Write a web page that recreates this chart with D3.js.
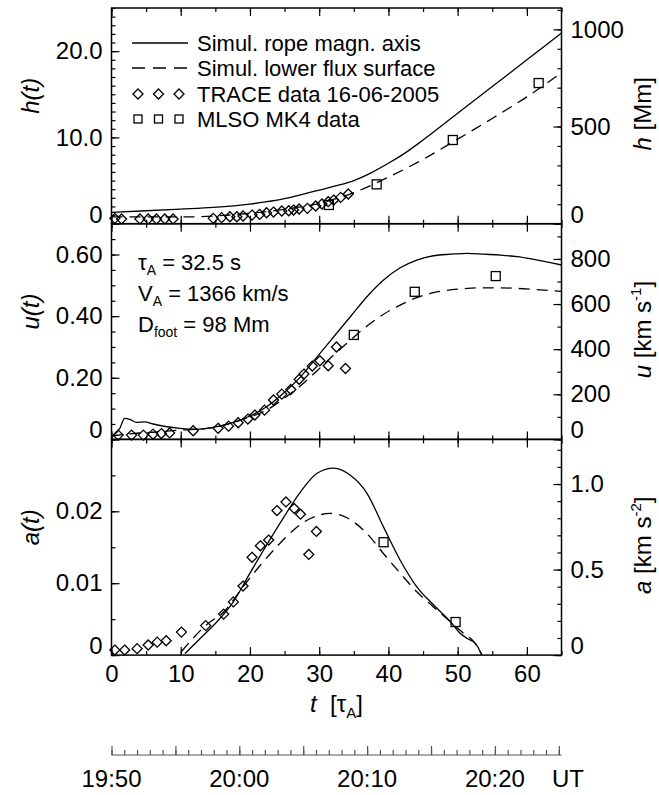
<!DOCTYPE html>
<html>
<head>
<meta charset="utf-8">
<script src="https://cdn.jsdelivr.net/npm/d3@7"></script>
<style>
body { margin: 0; background: #fff; }
text { font-family: "Liberation Sans", Arial, sans-serif; fill: #000; }
</style>
</head>
<body>
<div id="chart"></div>
<script>
// physical units of the simulation
var TAU_A = 32.5;          // s
var V_A = 1366;            // km/s
var H_UNIT = V_A * TAU_A / 1000;   // Mm
var A_UNIT = V_A / TAU_A;  // km/s^2

// --- h(t): simulation curves ---
var ropeHT = [0, 5, 10, 14.7, 20, 25, 27.3, 30, 32.5, 35, 37.5, 40, 42.6, 45, 50, 55, 60, 65];
var ropeH  = [1.32, 1.5, 1.7, 1.9, 2.28, 2.9, 3.35, 3.9, 4.4, 5.0, 5.9, 7.0, 8.3, 9.7, 12.8, 15.9, 19.0, 22.1];
var surfHT = [0, 5, 10, 15, 20, 25, 30, 35, 40, 45, 50, 55, 60, 65];
var surfH  = [0.8, 0.78, 0.78, 0.9, 1.2, 1.67, 2.36, 3.6, 5.4, 7.46, 9.8, 12.2, 14.7, 17.5];

// --- u(t): simulation curves ---
var ropeUT = [0, 1.2, 1.9, 2.65, 3.6, 4.8, 6.0, 8.0, 9.9, 12.3, 14.7, 17.6, 20.0, 22.4, 24.8, 27.3, 29.7, 32.1,
              34.5, 36.9, 39.3, 41.7, 44.1, 46.5, 49.0, 51.4, 53.8, 56.2, 58.6, 61.0, 65];
var ropeU  = [0.008, 0.036, 0.068, 0.065, 0.055, 0.057, 0.050, 0.041, 0.036, 0.033, 0.039, 0.055, 0.076, 0.106,
              0.149, 0.203, 0.268, 0.333, 0.398, 0.463, 0.517, 0.557, 0.582, 0.596, 0.601, 0.604, 0.601, 0.598,
              0.593, 0.584, 0.566];
var surfUT = [0, 3.1, 6.5, 9.9, 12.3, 14.7, 17.6, 20.0, 22.4, 24.8, 27.3, 29.7, 32.1, 34.5, 36.9, 39.3, 41.7,
              44.1, 46.5, 49.0, 51.4, 53.8, 56.2, 58.6, 61.0, 65];
var surfU  = [0.011, 0.019, 0.024, 0.030, 0.033, 0.039, 0.055, 0.073, 0.095, 0.131, 0.174, 0.223, 0.274, 0.322,
              0.368, 0.406, 0.436, 0.46, 0.476, 0.485, 0.49, 0.492, 0.492, 0.49, 0.487, 0.48];

// --- a(t): simulation curves ---
var ropeAT = [10.6, 12.8, 15.2, 17.6, 20.0, 22.4, 24.9, 27.3, 29.7, 32.1, 34.5, 36.9, 39.3, 41.7, 44.1, 46.5,
              49.0, 50.4, 51.4, 52.6, 53.5];
var ropeA  = [0.0002, 0.0023, 0.0046, 0.0074, 0.0114, 0.0153, 0.0192, 0.0227, 0.0253, 0.026, 0.025, 0.0225,
              0.0178, 0.0132, 0.0095, 0.007, 0.0046, 0.003, 0.0023, 0.0016, 0];
var surfAT = [10.1, 13.7, 16.2, 19.0, 21.5, 23.9, 26.3, 28.7, 31.6, 34.0, 36.9, 39.3, 41.7, 44.1, 46.5, 49.0,
              50.9, 52.3, 53.5];
var surfA  = [0.0005, 0.0042, 0.006, 0.0095, 0.0125, 0.0151, 0.0174, 0.019, 0.0197, 0.0191, 0.0169, 0.0141,
              0.0114, 0.0088, 0.0067, 0.0046, 0.003, 0.0019, 0];

// --- TRACE diamonds ---
var traceHT = [0.48, 1.45, 4.1, 5.3, 6.5, 7.7, 8.9, 14.7, 15.9, 17.1, 18.1, 19.0, 20.3, 21.4, 22.4, 23.4, 24.6,
               25.6, 26.3, 27.1, 28.3, 29.5, 30.4, 31.3, 32.1, 33.1, 34.2];
var traceH  = [0.62, 0.55, 0.55, 0.55, 0.55, 0.55, 0.55, 0.62, 0.70, 0.81, 0.81, 0.89, 1.0, 1.08, 1.27, 1.35,
               1.47, 1.5, 1.58, 1.7, 1.78, 2.05, 2.28, 2.55, 2.74, 3.05, 3.44];
var traceUT = [0.96, 2.9, 4.6, 6.0, 7.2, 8.4, 11.8, 15.4, 16.9, 18.3, 19.7, 20.7, 22.1, 23.4, 24.6, 25.9, 27.1,
               27.8, 29.0, 30.1, 31.3, 32.5, 33.8];
var traceU  = [0.014, 0.014, 0.014, 0.017, 0.019, 0.021, 0.028, 0.036, 0.043, 0.054, 0.066, 0.079, 0.095,
               0.128, 0.147, 0.162, 0.195, 0.212, 0.238, 0.255, 0.239, 0.30, 0.23];
var traceAT = [0.48, 1.9, 3.7, 5.3, 6.6, 7.9, 10.1, 13.6, 16.2, 17.6, 19.0, 20.3, 21.5, 22.7, 23.9, 25.2, 26.4,
               27.3, 28.5, 29.6];
var traceA  = [0.0007, 0.0007, 0.0009, 0.0014, 0.0018, 0.002, 0.0032, 0.0041, 0.0057, 0.0074, 0.0096, 0.0136,
               0.0152, 0.016, 0.0201, 0.0213, 0.0204, 0.0196, 0.014, 0.0172];

// --- MLSO MK4 squares ---
var mlsoHT = [31.4, 38.3, 49.3, 61.7];
var mlsoH  = [2.17, 4.56, 9.7, 16.3];
var mlsoUT = [35.0, 43.8, 55.5];
var mlsoU  = [0.339, 0.479, 0.53];
var mlsoAT = [39.3, 49.7];
var mlsoA  = [0.0157, 0.0046];

// --- tick labels ---
var xTicks = [0, 10, 20, 30, 40, 50, 60];
var utLabels = ["19:50", "20:00", "20:10", "20:20"];
var legendLabels = ["Simul. rope magn. axis", "Simul. lower flux surface", "TRACE data 16-06-2005", "MLSO MK4 data"];

var LEFT = 111.5, RIGHT = 561.5;
var PANEL_H = 215.7;
var FONT = 24;       // tick labels and axis titles
var TEXT_FONT = 22;  // legend and annotations

var x = d3.scaleLinear().domain([0, 65]).range([LEFT, RIGHT]);

var svg = d3.select("#chart").append("svg")
    .attr("width", 659)
    .attr("height", 795);

function zip(ts, vs) {
    return ts.map(function(t, i) { return [t, vs[i]]; });
}

function drawPanel(p, index) {
    var top = 8 + index * PANEL_H;
    var bottom = top + PANEL_H;
    var y = d3.scaleLinear().domain([0, p.yMax]).range([bottom, top]);
    var yR = d3.scaleLinear().domain([0, p.yMax * p.factor]).range([bottom, top]);
    var g = svg.append("g");

    g.append("clipPath").attr("id", "clip" + index)
        .append("rect").attr("x", LEFT).attr("y", top).attr("width", RIGHT - LEFT).attr("height", PANEL_H);

    var line = d3.line()
        .x(function(d) { return x(d[0]); })
        .y(function(d) { return y(d[1]); })
        .curve(d3.curveMonotoneX);

    g.append("path").datum(p.solid)
        .attr("d", line).attr("fill", "none").attr("stroke", "#000").attr("stroke-width", 1.3)
        .attr("clip-path", "url(#clip" + index + ")");
    g.append("path").datum(p.dashed)
        .attr("d", line).attr("fill", "none").attr("stroke", "#000").attr("stroke-width", 1.3)
        .attr("stroke-dasharray", "11,7")
        .attr("clip-path", "url(#clip" + index + ")");

    g.selectAll(".diamond").data(p.diamonds).enter().append("path")
        .attr("class", "diamond")
        .attr("d", "M0,-5L5,0L0,5L-5,0Z")
        .attr("transform", function(d) { return "translate(" + x(d[0]) + "," + y(d[1]) + ")"; })
        .attr("fill", "none").attr("stroke", "#000").attr("stroke-width", 1.3);

    g.selectAll(".square").data(p.squares).enter().append("rect")
        .attr("class", "square")
        .attr("x", function(d) { return x(d[0]) - 4.5; })
        .attr("y", function(d) { return y(d[1]) - 4.5; })
        .attr("width", 9).attr("height", 9)
        .attr("fill", "none").attr("stroke", "#000").attr("stroke-width", 1.3);

    // x ticks on bottom and top edges, pointing inward
    var xMinor = d3.range(0, 66, 5);
    addAxis(g, d3.axisBottom(x).tickValues(xTicks).tickSizeInner(-8).tickSizeOuter(0).tickPadding(10)
        .tickFormat(p.xLabels ? d3.format("d") : ""), 0, bottom);
    addAxis(g, d3.axisBottom(x).tickValues(xMinor).tickSizeInner(-4).tickSizeOuter(0).tickFormat(""), 0, bottom);
    addAxis(g, d3.axisTop(x).tickValues(xTicks).tickSizeInner(-8).tickSizeOuter(0).tickFormat(""), 0, top);
    addAxis(g, d3.axisTop(x).tickValues(xMinor).tickSizeInner(-4).tickSizeOuter(0).tickFormat(""), 0, top);

    // left and right axes
    addAxis(g, d3.axisLeft(y).tickValues(p.leftMajor).tickSizeInner(-8).tickSizeOuter(0).tickPadding(9)
        .tickFormat(p.leftFmt), LEFT, 0);
    addAxis(g, d3.axisLeft(y).tickValues(p.leftMinor).tickSizeInner(-4).tickSizeOuter(0).tickFormat(""), LEFT, 0);
    addAxis(g, d3.axisRight(yR).tickValues(p.rightMajor).tickSizeInner(-8).tickSizeOuter(0).tickPadding(9)
        .tickFormat(p.rightFmt), RIGHT, 0);
    addAxis(g, d3.axisRight(yR).tickValues(p.rightMinor).tickSizeInner(-4).tickSizeOuter(0).tickFormat(""), RIGHT, 0);

    g.append("rect")
        .attr("x", LEFT).attr("y", top).attr("width", RIGHT - LEFT).attr("height", PANEL_H)
        .attr("fill", "none").attr("stroke", "#000").attr("stroke-width", 1.5);

    // axis titles
    var mid = (top + bottom) / 2;
    g.append("text")
        .attr("transform", "translate(39," + (mid - 20) + ") rotate(-90)")
        .attr("text-anchor", "middle").attr("font-size", FONT).attr("font-style", "italic")
        .text(p.leftTitle);

    var rt = g.append("text")
        .attr("transform", "translate(651," + (mid - 2) + ") rotate(-90)")
        .attr("text-anchor", "middle").attr("font-size", FONT);
    rt.append("tspan").attr("font-style", "italic").text(p.rightVar);
    rt.append("tspan").text(" [" + p.rightUnit);
    if (p.rightExp) {
        rt.append("tspan").attr("font-size", 15).attr("dy", -10).text(p.rightExp);
        rt.append("tspan").attr("dy", 10).text("]");
    } else {
        rt.append("tspan").text("]");
    }
}

function addAxis(g, axis, tx, ty) {
    var a = g.append("g")
        .attr("transform", "translate(" + tx + "," + ty + ")")
        .call(axis);
    a.select(".domain").remove();
    a.selectAll("line").attr("stroke", "#000").attr("stroke-width", 1.2);
    a.selectAll("text").attr("font-size", FONT).attr("fill", "#000")
        .attr("font-family", "'Liberation Sans', Arial, sans-serif");
    return a;
}

var panels = [
    {
        yMax: 25, factor: H_UNIT,
        solid: zip(ropeHT, ropeH), dashed: zip(surfHT, surfH),
        diamonds: zip(traceHT, traceH), squares: zip(mlsoHT, mlsoH),
        leftMajor: [0, 10, 20], leftMinor: d3.range(0, 25.5, 1),
        leftFmt: function(d) { return d === 0 ? "0" : d.toFixed(1); },
        rightMajor: [0, 500, 1000], rightMinor: d3.range(0, 1101, 100),
        rightFmt: d3.format("d"),
        leftTitle: "h(t)", rightVar: "h", rightUnit: "Mm", rightExp: null
    },
    {
        yMax: 0.70, factor: V_A,
        solid: zip(ropeUT, ropeU), dashed: zip(surfUT, surfU),
        diamonds: zip(traceUT, traceU), squares: zip(mlsoUT, mlsoU),
        leftMajor: [0, 0.2, 0.4, 0.6], leftMinor: d3.range(0, 0.701, 0.05),
        leftFmt: function(d) { return d === 0 ? "0" : d.toFixed(2); },
        rightMajor: [0, 200, 400, 600, 800], rightMinor: d3.range(0, 901, 100),
        rightFmt: d3.format("d"),
        leftTitle: "u(t)", rightVar: "u", rightUnit: "km s", rightExp: "-1"
    },
    {
        yMax: 0.030, factor: A_UNIT, xLabels: true,
        solid: zip(ropeAT, ropeA), dashed: zip(surfAT, surfA),
        diamonds: zip(traceAT, traceA), squares: zip(mlsoAT, mlsoA),
        leftMajor: [0, 0.01, 0.02], leftMinor: d3.range(0, 0.0301, 0.005),
        leftFmt: function(d) { return d === 0 ? "0" : d.toFixed(2); },
        rightMajor: [0, 0.5, 1.0], rightMinor: d3.range(0, 1.25, 0.1),
        rightFmt: function(d) { return d === 0 ? "0" : d.toFixed(1); },
        leftTitle: "a(t)", rightVar: "a", rightUnit: "km s", rightExp: "-2"
    }
];

panels.forEach(drawPanel);

// shift the "0" y labels up so they sit inside their panel
svg.selectAll(".tick text").filter(function() {
    return this.textContent === "0" && this.getAttribute("dy") === "0.32em";
}).attr("dy", "-0.06em");

// x axis title
var xt = svg.append("text").attr("x", (LEFT + RIGHT) / 2).attr("y", 712)
    .attr("text-anchor", "middle").attr("font-size", FONT);
xt.append("tspan").attr("font-style", "italic").text("t");
xt.append("tspan").text("\u00a0 [\u03c4");
xt.append("tspan").attr("font-size", 15).attr("dy", 6).text("A");
xt.append("tspan").attr("dy", -6).text("]");

// legend
var legend = svg.append("g");
var legY = [43, 68, 94, 119];
legend.append("line").attr("x1", 132).attr("x2", 188).attr("y1", legY[0]).attr("y2", legY[0])
    .attr("stroke", "#000").attr("stroke-width", 1.3);
legend.append("line").attr("x1", 132).attr("x2", 188).attr("y1", legY[1]).attr("y2", legY[1])
    .attr("stroke", "#000").attr("stroke-width", 1.3).attr("stroke-dasharray", "13,8");
[138, 158.5, 179].forEach(function(lx) {
    legend.append("path").attr("d", "M0,-5L5,0L0,5L-5,0Z")
        .attr("transform", "translate(" + lx + "," + legY[2] + ")")
        .attr("fill", "none").attr("stroke", "#000").attr("stroke-width", 1.3);
    legend.append("rect").attr("x", lx - 4).attr("y", legY[3] - 4).attr("width", 8).attr("height", 8)
        .attr("fill", "none").attr("stroke", "#000").attr("stroke-width", 1.3);
});
legend.selectAll(".leg").data(legendLabels).enter().append("text")
    .attr("x", 197).attr("y", function(d, i) { return legY[i] + 8; })
    .attr("font-size", TEXT_FONT).text(function(d) { return d; });

// simulation parameters
var params = svg.append("g").attr("font-size", TEXT_FONT);
var p1 = params.append("text").attr("x", 138).attr("y", 270);
p1.append("tspan").text("\u03c4");
p1.append("tspan").attr("font-size", 14).attr("dy", 5).text("A");
p1.append("tspan").attr("dy", -5).text(" = " + TAU_A + " s");
var p2 = params.append("text").attr("x", 138).attr("y", 301);
p2.append("tspan").text("V");
p2.append("tspan").attr("font-size", 14).attr("dy", 5).text("A");
p2.append("tspan").attr("dy", -5).text(" = " + V_A + " km/s");
var p3 = params.append("text").attr("x", 138).attr("y", 332);
p3.append("tspan").text("D");
p3.append("tspan").attr("font-size", 14).attr("dy", 5).text("foot");
p3.append("tspan").attr("dy", -5).text(" = 98 Mm");

// UT axis
var t0 = Date.UTC(2005, 5, 16, 19, 50);
var ut = d3.scaleUtc().domain([new Date(t0), new Date(t0 + 65 * TAU_A * 1000)]).range([LEFT, RIGHT]);
var UT_Y = 755;
svg.append("line").attr("x1", LEFT).attr("x2", RIGHT).attr("y1", UT_Y).attr("y2", UT_Y)
    .attr("stroke", "#555").attr("stroke-width", 1.2);
var utMinor = svg.append("g").attr("transform", "translate(0," + UT_Y + ")")
    .call(d3.axisTop(ut).ticks(d3.utcMinute.every(1)).tickSizeInner(5).tickSizeOuter(0).tickFormat(""));
var utMajor = svg.append("g").attr("transform", "translate(0," + UT_Y + ")")
    .call(d3.axisTop(ut).ticks(d3.utcMinute.every(5)).tickSizeInner(9).tickSizeOuter(0).tickFormat(""));
[utMinor, utMajor].forEach(function(a) {
    a.select(".domain").remove();
    a.selectAll("line").attr("stroke", "#555").attr("stroke-width", 1.2);
});
svg.selectAll(".utlab").data(utLabels).enter().append("text")
    .attr("x", function(d, i) { return ut(new Date(t0 + i * 600000)); })
    .attr("y", 787).attr("text-anchor", "middle").attr("font-size", FONT)
    .text(function(d) { return d; });
svg.append("text").attr("x", 552).attr("y", 787).attr("font-size", FONT).text("UT");
</script>
</body>
</html>
